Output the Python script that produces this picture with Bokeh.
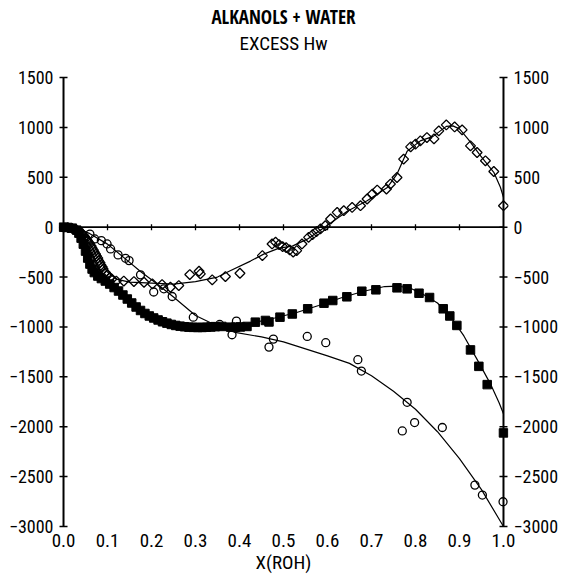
import math
from bokeh.plotting import figure
from bokeh.models import Range1d, LinearAxis, FixedTicker, Title, NumeralTickFormatter
from bokeh.embed import file_html
from bokeh.resources import INLINE

FONT = "Roboto Condensed"
BOLD_FONT = "Open Sans Condensed"

# ---------------- data ----------------
x_ticks = [0.0, 0.1, 0.2, 0.3, 0.4, 0.5, 0.6, 0.7, 0.8, 0.9, 1.0]
y_ticks = [-3000, -2500, -2000, -1500, -1000, -500, 0, 500, 1000, 1500]
y_tick_labels = ["\u22123000", "\u22122500", "\u22122000", "\u22121500", "\u22121000",
                 "\u2212500", "0", "500", "1000", "1500"]

# open diamonds
dia_x = [0.01, 0.02, 0.03, 0.035, 0.04, 0.045, 0.048, 0.05, 0.053, 0.055, 0.058, 0.06, 0.063,
         0.065, 0.068, 0.07, 0.073, 0.075, 0.078, 0.08, 0.083, 0.085, 0.088,
         0.09, 0.095, 0.10, 0.105, 0.11, 0.12, 0.137, 0.16, 0.183, 0.202, 0.224, 0.243, 0.262,
         0.287, 0.308, 0.311, 0.338, 0.368, 0.401, 0.452, 0.474, 0.482, 0.490, 0.498, 0.506,
         0.514, 0.522, 0.530, 0.542, 0.557, 0.566, 0.575, 0.584, 0.595, 0.607, 0.622, 0.637,
         0.656, 0.675, 0.690, 0.702, 0.713, 0.734, 0.743, 0.758, 0.773, 0.789, 0.800, 0.811,
         0.826, 0.842, 0.853, 0.870, 0.889, 0.906, 0.925, 0.940, 0.959, 0.978, 1.0]
dia_y = [-5, -15, -30, -40, -55, -80, -95, -110, -125, -140, -155, -170, -190,
         -210, -230, -250, -270, -290, -310, -335, -355, -380, -400,
         -420, -455, -480, -505, -520, -540, -540, -545, -552, -568, -575, -602, -585,
         -475, -442, -468, -528, -495, -462, -285, -168, -150, -175, -195, -205,
         -228, -250, -235, -168, -102, -75, -45, -18, 15, 82, 148, 165,
         198, 215, 282, 332, 372, 382, 432, 498, 682, 805, 832, 865,
         898, 885, 965, 1025, 1005, 975, 815, 748, 665, 558, 215]

# filled squares
sq_x = [0.0, 0.01, 0.02, 0.03, 0.035, 0.04, 0.045, 0.05, 0.055, 0.06, 0.065, 0.07, 0.078,
        0.086, 0.095, 0.105, 0.115, 0.125, 0.135, 0.145, 0.155, 0.165, 0.175, 0.185, 0.195,
        0.205, 0.215, 0.225, 0.235, 0.245, 0.255, 0.265, 0.275, 0.285, 0.295, 0.305, 0.315,
        0.325, 0.335, 0.345, 0.360, 0.380, 0.391, 0.402, 0.417, 0.436, 0.459, 0.467, 0.492,
        0.520, 0.555, 0.592, 0.612, 0.644, 0.678, 0.710, 0.758, 0.781, 0.808, 0.832, 0.863,
        0.878, 0.894, 0.925, 0.944, 0.963, 1.0]
sq_y = [0, -3, -10, -30, -60, -110, -170, -240, -310, -370, -420, -455, -490,
        -515, -540, -570, -605, -640, -680, -720, -760, -800, -835, -865, -890,
        -910, -930, -948, -962, -975, -985, -992, -998, -1002, -1004, -1005, -1005,
        -1003, -1000, -997, -995, -1002, -1002, -1000, -995, -952, -935, -950, -902,
        -870, -818, -762, -735, -698, -642, -628, -608, -618, -662, -705, -818,
        -890, -985, -1230, -1395, -1578, -2062]

# open circles
circ_x = [0.0, 0.06, 0.071, 0.086, 0.099, 0.107, 0.124, 0.141, 0.149, 0.080, 0.175, 0.205,
          0.228, 0.247, 0.295, 0.355, 0.383, 0.393, 0.467, 0.477, 0.554, 0.596, 0.669, 0.677,
          0.770, 0.781, 0.798, 0.861, 0.935, 0.952, 0.999]
circ_y = [-5, -70, -118, -135, -168, -218, -278, -312, -335, -485, -478, -650,
          -618, -695, -902, -975, -1078, -942, -1202, -1122, -1095, -1158, -1328, -1442,
          -2042, -1755, -1958, -2008, -2585, -2685, -2752]

# fitted curves
dia_curve_x = [0.0, 0.02, 0.04, 0.06, 0.08, 0.10, 0.12, 0.15, 0.20, 0.25, 0.30, 0.35, 0.38,
               0.425, 0.455, 0.49, 0.52, 0.554, 0.60, 0.645, 0.69, 0.736, 0.758, 0.781, 0.811,
               0.84, 0.87, 0.885, 0.90, 0.92, 0.948, 0.978, 0.993, 1.0]
dia_curve_y = [0, -15, -60, -170, -320, -450, -520, -550, -560, -570, -545, -500, -435,
               -340, -270, -210, -190, -120, 20, 160, 265, 398, 532, 760, 865,
               910, 1010, 1015, 985, 880, 715, 550, 400, 298]

sq_curve_x = [0.0, 0.02, 0.03, 0.04, 0.05, 0.06, 0.07, 0.086, 0.105, 0.125, 0.155, 0.185,
              0.215, 0.245, 0.275, 0.305, 0.335, 0.38, 0.43, 0.48, 0.53, 0.58, 0.63, 0.68,
              0.73, 0.76, 0.79, 0.82, 0.85, 0.88, 0.91, 0.94, 0.97, 0.99, 1.0]
sq_curve_y = [0, -10, -30, -110, -240, -370, -455, -515, -570, -640, -760, -865,
              -930, -975, -998, -1005, -1000, -990, -960, -910, -855, -785, -710, -645,
              -595, -590, -615, -680, -760, -900, -1090, -1325, -1568, -1760, -1870]

circ_curve_x = [0.0, 0.03, 0.06, 0.10, 0.14, 0.175, 0.21, 0.25, 0.30, 0.34, 0.39, 0.45,
                0.50, 0.55, 0.60, 0.65, 0.70, 0.75, 0.80, 0.85, 0.90, 0.95, 1.0]
circ_curve_y = [0, -10, -65, -170, -315, -445, -560, -700, -885, -970, -1055, -1100,
                -1150, -1220, -1290, -1365, -1490, -1645, -1825, -2050, -2320, -2630, -3000]

# ---------------- figure ----------------
p = figure(width=562, height=576, output_backend="svg", toolbar_location=None,
           x_range=Range1d(-0.0114, 1.0114), y_range=Range1d(-3020, 1520),
           x_axis_location=None, y_axis_location=None,
           min_border_left=58, min_border_right=54, min_border_top=75, min_border_bottom=47)
p.grid.visible = False
p.outline_line_color = None
p.background_fill_color = "white"
p.border_fill_color = "white"

overrides = {t: l for t, l in zip(y_ticks, y_tick_labels)}


def label_axis():
    ax = LinearAxis(ticker=FixedTicker(ticks=y_ticks))
    ax.major_label_overrides = overrides
    ax.axis_line_color = None
    ax.major_tick_line_color = None
    ax.minor_tick_line_color = None
    ax.major_tick_in = 0
    ax.major_tick_out = 0
    ax.major_label_standoff = 5
    ax.major_label_text_font = FONT
    ax.major_label_text_font_size = "18px"
    ax.major_label_text_color = "black"
    return ax


p.add_layout(label_axis(), "left")
p.add_layout(label_axis(), "right")

# bottom labels only
bax = LinearAxis(ticker=FixedTicker(ticks=x_ticks), formatter=NumeralTickFormatter(format="0.0"))
bax.axis_line_color = None
bax.major_tick_line_color = None
bax.minor_tick_line_color = None
bax.major_tick_in = 0
bax.major_tick_out = 0
bax.major_label_standoff = 5
bax.major_label_text_font = FONT
bax.major_label_text_font_size = "19px"
bax.major_label_text_color = "black"
bax.axis_label = "X(ROH)"
bax.axis_label_standoff = 1
bax.axis_label_text_font = FONT
bax.axis_label_text_font_size = "19px"
bax.axis_label_text_font_style = "normal"
bax.axis_label_text_color = "black"
p.add_layout(bax, "below")

# blank spacer between the plot and the two title lines
p.add_layout(Title(text="\u00a0", align="center", text_font=FONT, text_font_size="14px",
                   text_color="white", standoff=3), "above")
p.add_layout(Title(text="EXCESS Hw", align="center", text_font=FONT,
                   text_font_size="19px", text_font_style="normal", text_color="black",
                   standoff=0), "above")
p.add_layout(Title(text="ALKANOLS + WATER", align="center", text_font=BOLD_FONT,
                   text_font_size="19px", text_font_style="bold", text_color="black",
                   standoff=0), "above")

# vertical axis lines at x=0 and x=1, and their crossing tick marks
x_ends = [x_ticks[0], x_ticks[-1]]
p.segment(x0=x_ends, y0=[y_ticks[0]] * 2, x1=x_ends, y1=[y_ticks[-1]] * 2,
          line_color="black", line_width=2)
p.scatter(x=[x_ticks[0]] * len(y_ticks) + [x_ticks[-1]] * len(y_ticks), y=y_ticks * 2,
          marker="dash", size=8, line_color="black", line_width=1.5)

# zero line with small crossing ticks
p.segment(x0=[x_ticks[0]], y0=[0], x1=[x_ticks[-1]], y1=[0], line_color="black",
          line_width=1.6)
p.scatter(x=x_ticks[1:-1], y=[0] * len(x_ticks[1:-1]), marker="dash", angle=math.pi / 2,
          size=6, line_color="black", line_width=1.3)

# curves
p.line(dia_curve_x, dia_curve_y, line_color="black", line_width=1.2)
p.line(sq_curve_x, sq_curve_y, line_color="black", line_width=1.2)
p.line(circ_curve_x, circ_curve_y, line_color="black", line_width=1.2)

# markers
p.scatter(sq_x, sq_y, marker="square", size=8.5, fill_color="black", line_color="black")
p.scatter(circ_x, circ_y, marker="circle", size=8, fill_color=None, line_color="black",
          line_width=1.3)
p.scatter(dia_x, dia_y, marker="square", angle=0.785398, size=7, fill_color=None,
          line_color="black", line_width=1.3)

open("out.html", "w").write(file_html(p, INLINE))
